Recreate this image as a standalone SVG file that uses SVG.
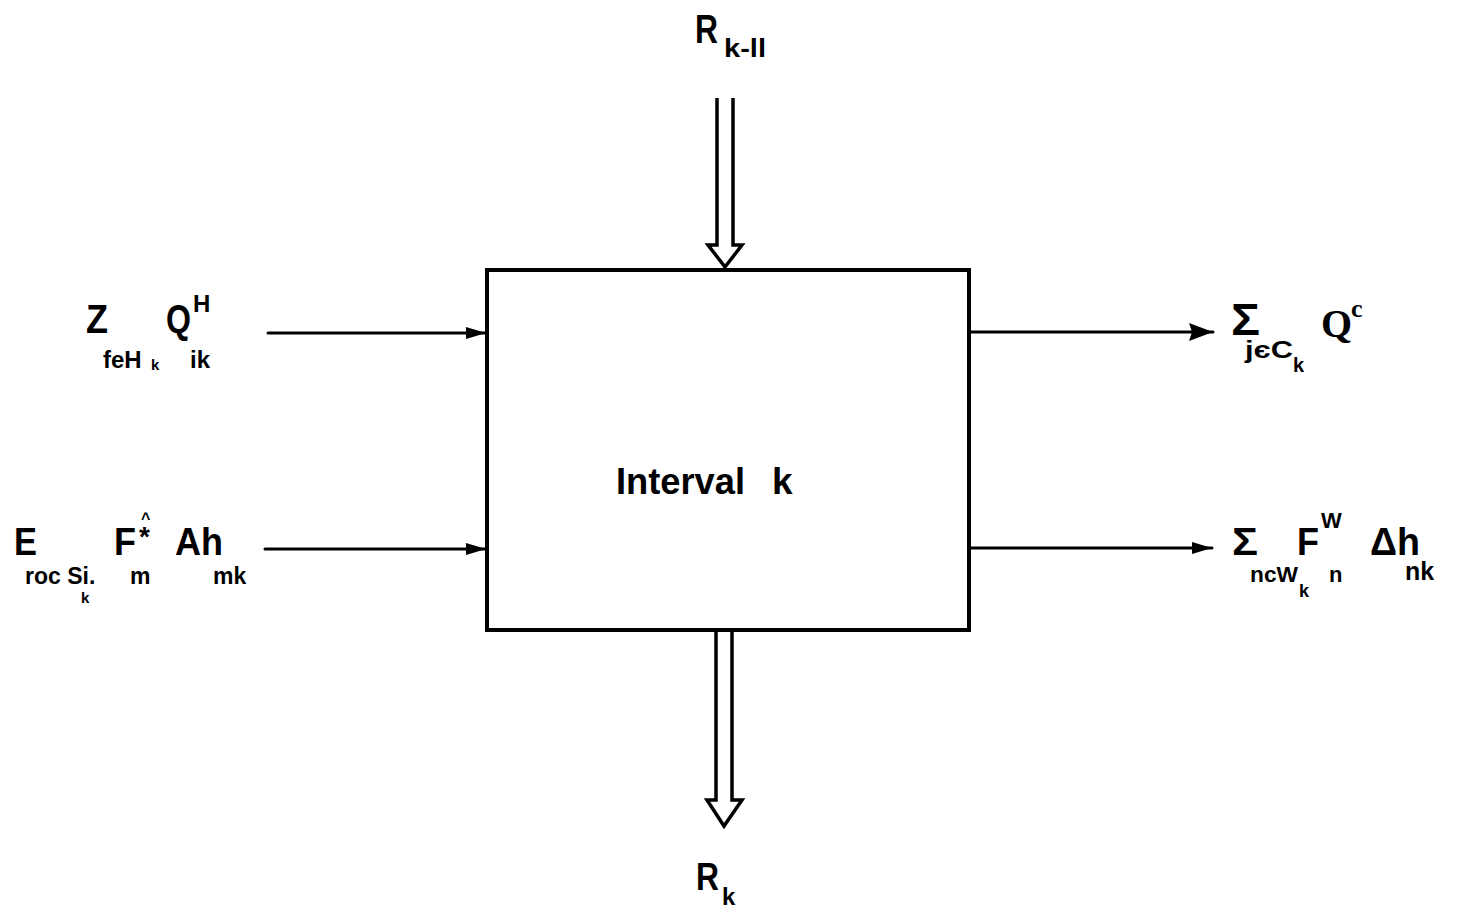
<svg xmlns="http://www.w3.org/2000/svg" width="1464" height="912" viewBox="0 0 1464 912">
<style>
.t{font-family:"Liberation Sans",Arial,sans-serif;font-weight:bold;fill:#000}
.s{font-family:"Liberation Serif","Times New Roman",serif;font-weight:bold;fill:#000}
.ln{stroke:#000;stroke-width:3;fill:none;stroke-linecap:round}
.hd{stroke:#000;stroke-width:3.5;fill:#fff;stroke-linejoin:miter}
</style>
<defs>
<marker id="ah" viewBox="0 0 20 14" refX="20" refY="7" markerWidth="20" markerHeight="14" markerUnits="userSpaceOnUse" orient="auto">
<path d="M0,1 L20,7 L0,13 Z" fill="#000"/>
</marker>
<marker id="ahb" viewBox="0 0 24 18" refX="24" refY="9" markerWidth="24" markerHeight="18" markerUnits="userSpaceOnUse" orient="auto">
<path d="M0,0 L24,9 L0,18 L3,9 Z" fill="#000"/>
</marker>
</defs>
<rect width="1464" height="912" fill="#fff"/>

<g id="interval-box">
<rect x="487" y="270" width="482" height="360" fill="none" stroke="#000" stroke-width="4"/>
<text class="t" x="616" y="494" font-size="37" textLength="129" lengthAdjust="spacingAndGlyphs">Interval</text>
<text class="t" x="772" y="494" font-size="37">k</text>
</g>

<g id="connectors">
<line class="ln" x1="268" y1="333" x2="486" y2="333" marker-end="url(#ah)"/>
<line class="ln" x1="265" y1="549" x2="486" y2="549" marker-end="url(#ah)"/>
<line class="ln" x1="970" y1="332" x2="1213" y2="332" marker-end="url(#ahb)"/>
<line class="ln" x1="970" y1="548" x2="1212" y2="548" marker-end="url(#ah)"/>
<g id="top-double-arrow">
<path class="hd" d="M717,98 L717,245 L708,245 L725,267 L742,245 L733,245 L733,98"/>
</g>
<g id="bottom-double-arrow">
<path class="hd" d="M716,632 L716,800 L707,800 L724,826 L742,800 L732,800 L732,632"/>
</g>
</g>

<g id="label-top">
<text class="t" x="695" y="43" font-size="40" textLength="23" lengthAdjust="spacingAndGlyphs">R</text>
<text class="t" x="724" y="57" font-size="26" textLength="42" lengthAdjust="spacingAndGlyphs">k-ll</text>
</g>

<g id="label-bottom">
<text class="t" x="696" y="890" font-size="38" textLength="23" lengthAdjust="spacingAndGlyphs">R</text>
<text class="t" x="722" y="905" font-size="24">k</text>
</g>

<g id="label-left-top">
<text class="t" x="86" y="333" font-size="40" textLength="22" lengthAdjust="spacingAndGlyphs">Z</text>
<text class="t" x="166" y="333" font-size="40" textLength="25" lengthAdjust="spacingAndGlyphs">Q</text>
<text class="t" x="193" y="312" font-size="24">H</text>
<text class="t" x="103" y="368" font-size="24">feH</text>
<text class="t" x="151" y="370" font-size="15">k</text>
<text class="t" x="190" y="368" font-size="24">ik</text>
</g>

<g id="label-left-bottom">
<text class="t" x="14" y="555" font-size="38" textLength="23" lengthAdjust="spacingAndGlyphs">E</text>
<text class="t" x="114" y="555" font-size="38" textLength="22" lengthAdjust="spacingAndGlyphs">F</text>
<text class="t" x="139" y="546" font-size="28">*</text>
<text class="t" x="141" y="524" font-size="16">^</text>
<text class="t" x="175" y="555" font-size="38" textLength="48" lengthAdjust="spacingAndGlyphs">Ah</text>
<text class="t" x="25" y="584" font-size="23">roc Si.</text>
<text class="t" x="81" y="603" font-size="15">k</text>
<text class="t" x="130" y="584" font-size="23">m</text>
<text class="t" x="213" y="584" font-size="23">mk</text>
</g>

<g id="label-right-top">
<text class="t" x="1231" y="335" font-size="44" textLength="29" lengthAdjust="spacingAndGlyphs">Σ</text>
<text class="t" x="1245" y="358" font-size="24" textLength="48" lengthAdjust="spacingAndGlyphs">jєC</text>
<text class="t" x="1293" y="372" font-size="20">k</text>
<text class="s" x="1321" y="337" font-size="40">Q</text>
<text class="s" x="1351" y="317" font-size="26">c</text>
</g>

<g id="label-right-bottom">
<text class="t" x="1232" y="555" font-size="38" textLength="26" lengthAdjust="spacingAndGlyphs">Σ</text>
<text class="t" x="1250" y="582" font-size="22" textLength="48" lengthAdjust="spacingAndGlyphs">ncW</text>
<text class="t" x="1299" y="597" font-size="18">k</text>
<text class="t" x="1297" y="555" font-size="38" textLength="22" lengthAdjust="spacingAndGlyphs">F</text>
<text class="t" x="1321" y="528" font-size="22">W</text>
<text class="t" x="1329" y="582" font-size="22">n</text>
<text class="t" x="1370" y="555" font-size="38" textLength="50" lengthAdjust="spacingAndGlyphs">Δh</text>
<text class="t" x="1405" y="580" font-size="25">nk</text>
</g>
</svg>
